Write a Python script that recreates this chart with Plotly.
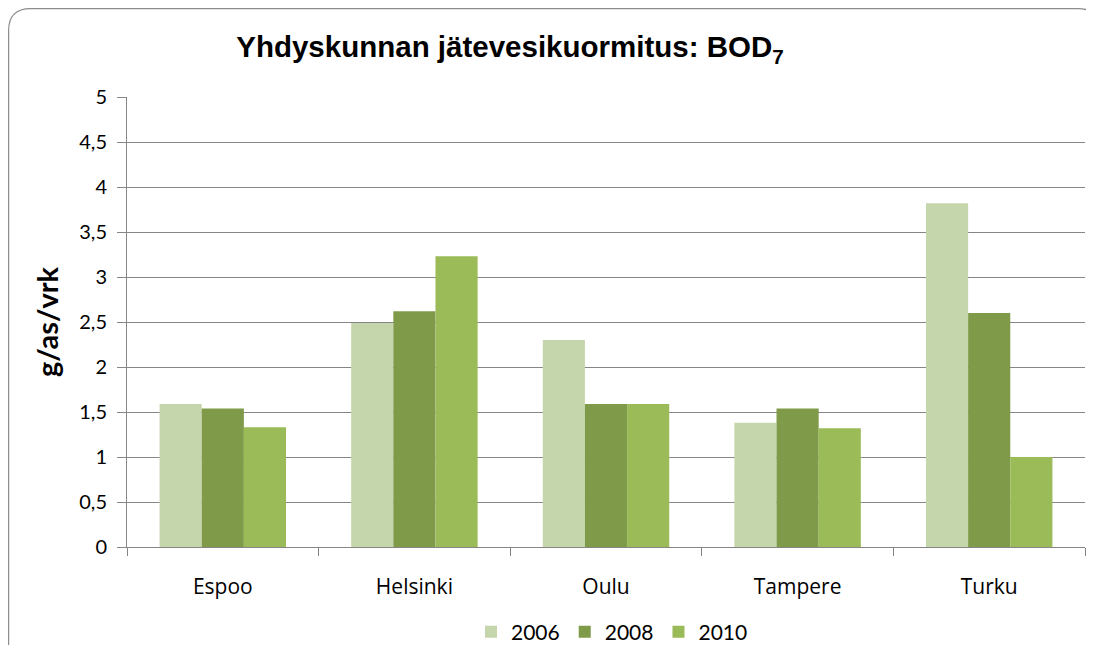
import plotly.graph_objects as go

categories = ["Espoo", "Helsinki", "Oulu", "Tampere", "Turku"]
years = ["2006", "2008", "2010"]
values_2006 = [1.59, 2.49, 2.30, 1.38, 3.82]
values_2008 = [1.54, 2.62, 1.59, 1.54, 2.60]
values_2010 = [1.33, 3.23, 1.59, 1.32, 1.00]
colors = ["#C6D6AC", "#7F9B4A", "#9BBB59"]
y_ticks = [0, 0.5, 1, 1.5, 2, 2.5, 3, 3.5, 4, 4.5, 5]
y_tick_text = ["0", "0,5", "1", "1,5", "2", "2,5", "3", "3,5", "4", "4,5", "5"]

W, H = 1094, 645
OFF = 8  # page body margin: figure origin sits at screen (8, 8)

# plot area in screen pixels
P_L, P_T, P_R, P_B = 127, 97, 1085, 547
ML, MT = P_L - OFF, P_T - OFF
MR, MB = W - (P_R - OFF), H - (P_B - OFF)
PW, PH = W - ML - MR, H - MT - MB

def px(x):  # screen x -> paper x
    return (x - OFF - ML) / PW

def py(y):  # screen y -> paper y
    return 1 - (y - OFF - MT) / PH

def cx(x):  # screen x -> container x
    return (x - OFF) / W

def cy(y):  # screen y -> container y
    return 1 - (y - OFF) / H

fig = go.Figure()
for name, vals, col in zip(years, [values_2006, values_2008, values_2010], colors):
    fig.add_trace(go.Bar(name=name, x=categories, y=vals, marker=dict(color=col, line=dict(width=0))))

# rounded chart border (screen pixels)
l, t, r, b, rad = 8.6, 8.6, 1100, 670, 22
path = (f"M {px(l)},{py(t+rad)} Q {px(l)},{py(t)} {px(l+rad)},{py(t)} "
        f"L {px(r-rad)},{py(t)} Q {px(r)},{py(t)} {px(r)},{py(t+rad)} "
        f"L {px(r)},{py(b)} L {px(l)},{py(b)} Z")
fig.add_shape(type="path", path=path, xref="paper", yref="paper",
              line=dict(color="#8C8C8C", width=1.2), fillcolor="rgba(0,0,0,0)", layer="below")

fig.update_layout(
    width=W, height=H,
    margin=dict(l=ML, r=MR, t=MT, b=MB, autoexpand=False),
    paper_bgcolor="white", plot_bgcolor="white",
    barmode="group", bargap=0.34, bargroupgap=0,
    title=dict(text="Yhdyskunnan jätevesikuormitus: BOD<sub>7</sub>",
               xref="container", x=cx(510), xanchor="center",
               yref="container", y=cy(47), yanchor="middle",
               font=dict(family="Liberation Sans, Arial", size=29.5, color="black", weight="bold")),
    font=dict(family="Lato, Open Sans", color="black"),
    legend=dict(orientation="h", xref="container", x=cx(612), xanchor="center",
                yref="container", y=cy(632), yanchor="middle",
                font=dict(size=21, family="Lato, Open Sans"), itemsizing="constant",
                traceorder="normal", itemwidth=30),
    xaxis=dict(showline=True, linecolor="#868686", linewidth=1, automargin=False,
               ticks="outside", tickson="boundaries", ticklen=8, tickcolor="#868686",
               tickfont=dict(size=21, family="Open Sans"), ticklabelstandoff=21,
               showgrid=False),
    yaxis=dict(range=[0, 5], tickvals=y_ticks, ticktext=y_tick_text, automargin=False,
               showline=True, linecolor="#868686", linewidth=1,
               ticks="outside", ticklen=9, tickcolor="#868686",
               tickfont=dict(size=20, family="Lato, Open Sans"), ticklabelstandoff=6,
               showgrid=True, gridcolor="#868686", gridwidth=1, zeroline=False,
               title=dict(text="<b>g/as/vrk</b>", font=dict(size=29, family="Lato, Open Sans"), standoff=12)),
)

fig.write_html("out.html")
